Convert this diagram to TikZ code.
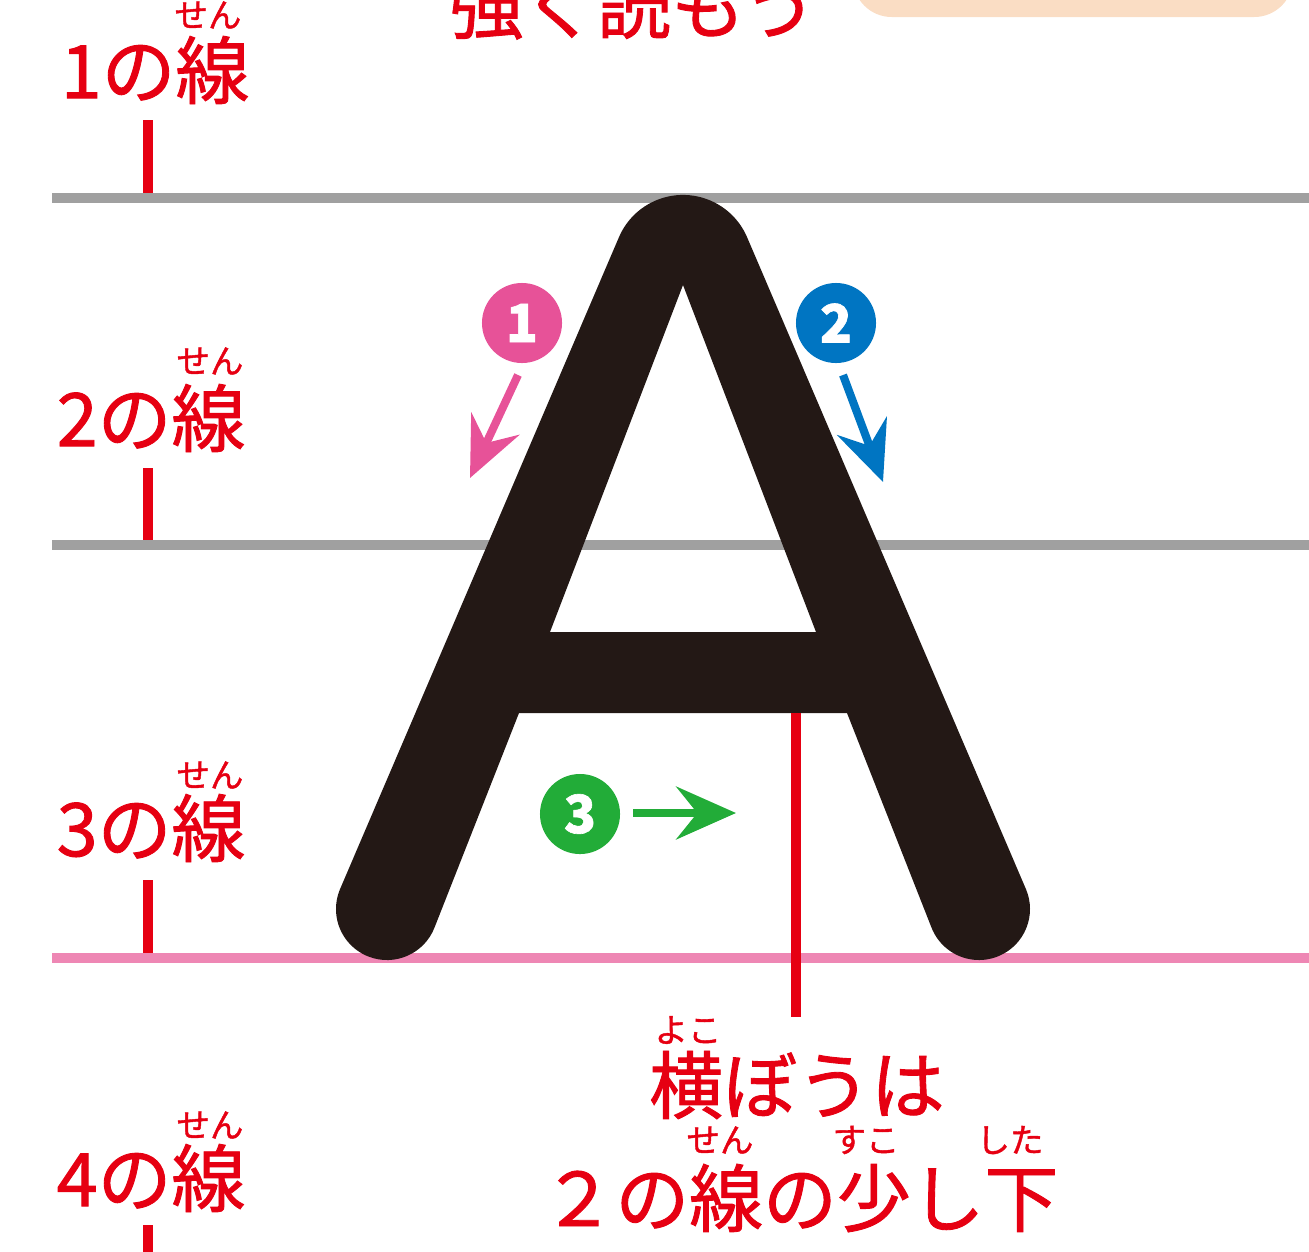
\documentclass[tikz,border=0pt]{standalone}
\usepackage{fontspec}
\usepackage{xcolor}
\usetikzlibrary{arrows.meta}
\newfontfamily\jp{Noto Sans CJK JP}[FakeBold=1.2]
\definecolor{lineRed}{RGB}{230,0,18}
\definecolor{guideGray}{RGB}{160,160,160}
\definecolor{basePink}{RGB}{238,135,180}
\definecolor{inkBlack}{RGB}{35,24,21}
\definecolor{stepPink}{RGB}{231,82,152}
\definecolor{stepBlue}{RGB}{0,117,194}
\definecolor{stepGreen}{RGB}{34,172,56}
\definecolor{boxPeach}{RGB}{250,221,196}

\tikzset{
  guide/.style={line width=2.6pt},
  tick/.style={lineRed, line width=2.9pt},
  lbl/.style={text=lineRed, inner sep=0pt, font=\jp\fontsize{21pt}{24pt}\selectfont},
  ruby/.style={text=lineRed, inner sep=0pt, font=\jp\fontsize{9.5pt}{11pt}\selectfont},
  num/.style={circle, inner sep=0pt, minimum size=0.8cm, text=white, font=\jp\bfseries\fontsize{15pt}{16pt}\selectfont},
  steparrow/.style={line width=2.3pt, -{Stealth[length=17pt, width=15pt, inset=6pt]}}
}

\begin{document}
\begin{tikzpicture}[x=0.01cm, y=-0.01cm]
    \useasboundingbox (0,0) rectangle (1309,1251);
    % top, cut off
    \fill[boxPeach, rounded corners=11pt] (853,-80) rectangle (1293,17);
    \node[lbl] (title) at (633,5) {強く読もう};

    % ticks and labels of the four lines
    \draw[tick] (148,120) -- (148,193);
    \draw[tick] (148,468) -- (148,541);
    \draw[tick] (148,880) -- (148,954);
    \draw[tick] (148,1225) -- (148,1260);
    \node[lbl, anchor=west] (l1) at (60,70) {1の線};
    \node[ruby] (r1) at (208,15) {せん};
    \node[lbl, anchor=west] (l2) at (56,418) {2の線};
    \node[ruby] (r2) at (210,361) {せん};
    \node[lbl, anchor=west] (l3) at (56,828) {3の線};
    \node[ruby] (r3) at (210,775) {せん};
    \node[lbl, anchor=west] (l4) at (56,1178) {4の線};
    \node[ruby] (r4) at (210,1125) {せん};

    % guide lines
    \draw[guide, guideGray] (52,198) -- (1309,198);
    \draw[guide, guideGray] (52,545) -- (1309,545);
    \draw[guide, basePink] (52,958) -- (1309,958);

    % the letter A
    \fill[inkBlack, even odd rule]
        (618.9,237.3) arc[start angle=203.1, end angle=336.9, radius=69.7]
        -- (1025.9,889) arc[start angle=-23.1, end angle=159, radius=51]
        -- (847,713) -- (519,713)
        -- (434.6,927.3) arc[start angle=21, end angle=203.1, radius=51]
        -- cycle
        (683,285) -- (816,632) -- (550,632) -- cycle;

    % stroke order
    \node[num, fill=stepPink] (n1) at (522,323) {1};
    \node[num, fill=stepBlue] (n2) at (836,323) {2};
    \node[num, fill=stepGreen] (n3) at (580,814) {3};
    \coordinate (a1s) at (518,375);
    \coordinate (a1e) at (470,478);
    \coordinate (a2s) at (843,375);
    \coordinate (a2e) at (883,482);
    \coordinate (a3s) at (633,813);
    \coordinate (a3e) at (736,813);
    \draw[steparrow, stepPink] (a1s) -- (a1e);
    \draw[steparrow, stepBlue] (a2s) -- (a2e);
    \draw[steparrow, stepGreen] (a3s) -- (a3e);

    % crossbar note
    \coordinate (bar) at (796,713);
    \coordinate (barend) at (796,1017);
    \draw[lineRed, line width=3.1pt] (bar) -- (barend);
    \node[lbl] (note1) at (797,1085) {横ぼうは};
    \node[ruby] (y1) at (688,1030) {よこ};
    \node[lbl] (note2) at (800,1198) {２の線の少し下};
    \node[ruby] (y2) at (720,1140) {せん};
    \node[ruby] (y3) at (866,1140) {すこ};
    \node[ruby] (y4) at (1010,1140) {した};
\end{tikzpicture}
\end{document}
